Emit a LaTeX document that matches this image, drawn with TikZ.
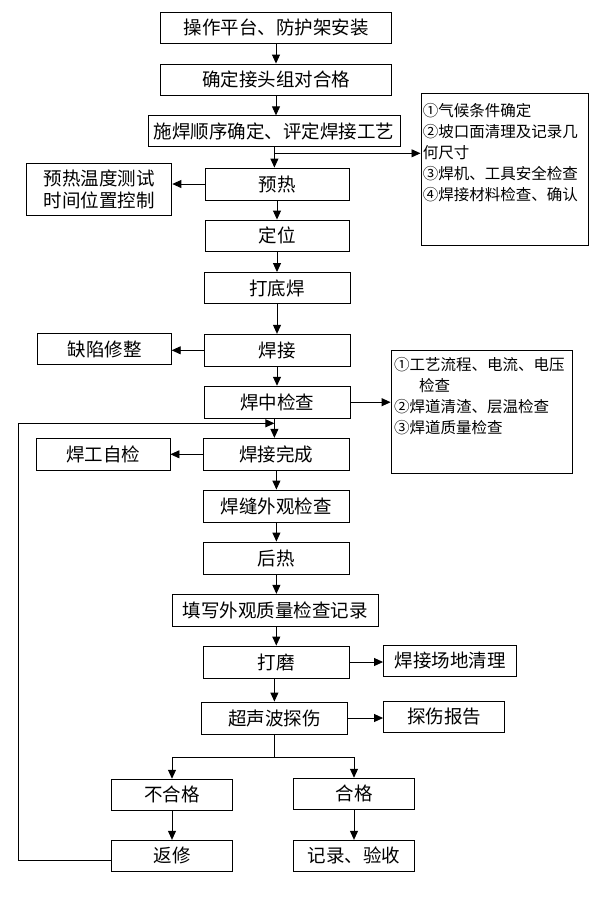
\documentclass[tikz,border=0pt]{standalone}
\usepackage{fontspec}
\newfontfamily\cjk{Noto Sans CJK SC}
\usetikzlibrary{arrows.meta}
\newcommand\qh[1]{\makebox[1em]{#1}}
\begin{document}
\begin{tikzpicture}
[x=1pt,y=-1pt,line width=0.9pt,
ar/.style={-{Triangle[length=9pt,width=8pt]}},
no/.style={draw,inner sep=0pt,minimum height=32pt,font=\cjk\fontsize{18.5}{22}\selectfont},
lst/.style={draw,inner sep=4pt,anchor=north west,font=\cjk\fontsize{15.5}{21}\selectfont}]
\useasboundingbox (0,0) rectangle (611,906);
\node [no,minimum width=231pt,minimum height=31pt] at (276,27.5) (azpt) {操作平台、防护架安装};
\node [no,minimum width=231pt,minimum height=31pt] at (276,79.5) (jtzd) {确定接头组对合格};
\node [no,minimum width=252pt,minimum height=31pt] at (274,131.3) (shsx) {施焊顺序确定、评定焊接工艺};
\node [lst,inner xsep=2pt] at (420.5,93.3) (jc1) {\parbox[t][144pt][t]{163pt}{\vspace*{6pt}\qh{①}气候条件确定\\\qh{②}坡口面清理及记录几\\何尺寸\\\qh{③}焊机、工具安全检查\\\qh{④}焊接材料检查、确认}};
\node [no,minimum width=144pt] at (277,184) (yr) {预热};
\node [no,minimum width=145pt,minimum height=52pt,align=center] at (99.4,189) (yrkz) {预热温度测试\\时间位置控制};
\node [no,minimum width=144pt,minimum height=31pt] at (277,235.5) (dw) {定位};
\node [no,minimum width=146pt,minimum height=31pt] at (277,288) (ddh) {打底焊};
\node [no,minimum width=146pt] at (277,350.3) (hj) {焊接};
\node [no,minimum width=133.5pt,minimum height=31pt] at (104.5,349) (qxxz) {缺陷修整};
\node [no,minimum width=146pt] at (277,402.2) (hzjc) {焊中检查};
\node [lst,inner xsep=3pt] at (390.6,350) (jc2) {\parbox[t][115pt][t]{175pt}{\vspace*{3pt}\qh{①}工艺流程、电流、电压\\\hspace*{25pt}检查\\\qh{②}焊道清渣、层温检查\\\qh{③}焊道质量检查}};
\node [no,minimum width=145.7pt] at (276.4,454.3) (hjwc) {焊接完成};
\node [no,minimum width=133.4pt] at (103.3,454.3) (hgzj) {焊工自检};
\node [no,minimum width=145.7pt] at (276.4,506) (wgjc) {焊缝外观检查};
\node [no,minimum width=145.7pt] at (276.4,558) (hr) {后热};
\node [no,minimum width=206.3pt] at (275.2,610.3) (txjl) {填写外观质量检查记录};
\node [no,minimum width=145.5pt] at (276.3,662) (dm) {打磨};
\node [no,minimum width=133pt,minimum height=31pt] at (450,660.7) (cdql) {焊接场地清理};
\node [no,minimum width=145.3pt] at (274.3,718) (tsh) {超声波探伤};
\node [no,minimum width=121pt,minimum height=31pt] at (444,716.8) (tsbg) {探伤报告};
\node [no,minimum width=121.3pt,minimum height=31pt] at (172,794.7) (bhg) {不合格};
\node [no,minimum width=121.3pt,minimum height=31pt] at (354,793.7) (hg) {合格};
\node [no,minimum width=121.3pt,minimum height=31pt] at (172,855.8) (fx) {返修};
\node [no,minimum width=121.3pt,minimum height=31pt] at (354,855.8) (jlys) {记录、验收};
\coordinate (fz1) at (274.4,153.3);
\coordinate (fz2) at (274.4,757.3);
\coordinate (hl1) at (18.5,860.7);
\coordinate (hl2) at (18.5,423.3);
\coordinate (hl3) at (274.4,423.3);

\draw [ar] (azpt) -- (jtzd);
\draw [ar] (jtzd) -- (jtzd.south |- shsx.north);
\draw [ar] (shsx.south -| fz1) -- (fz1 |- yr.north);
\draw [ar] (fz1) -- (fz1 -| jc1.west);
\draw [ar] (yr.west) -- (yr.west -| yrkz.east);
\draw [ar] (yr) -- (dw);
\draw [ar] (dw) -- (ddh);
\draw [ar] (ddh) -- (hj);
\draw [ar] (hj.west) -- (hj.west -| qxxz.east);
\draw [ar] (hj) -- (hzjc);
\draw [ar] (hzjc.east) -- (hzjc.east -| jc2.west);
\draw [ar] (hzjc.south -| hl3) -- (hl3 |- hjwc.north);
\draw [ar] (hjwc.west) -- (hjwc.west -| hgzj.east);
\draw [ar] (hjwc) -- (wgjc);
\draw [ar] (wgjc) -- (hr);
\draw [ar] (hr) -- (hr.south |- txjl.north);
\draw [ar] (txjl.south -| dm) -- (dm);
\draw [ar] (dm.east) -- (dm.east -| cdql.west);
\draw [ar] (dm.south -| fz2) -- (fz2 |- tsh.north);
\draw [ar] (tsh.east) -- (tsh.east -| tsbg.west);
\draw (tsh.south -| fz2) -- (fz2);
\draw [ar] (fz2) -| (bhg.north);
\draw [ar] (fz2) -| (hg.north);
\draw [ar] (bhg) -- (fx);
\draw [ar] (hg) -- (jlys);
\draw [ar] (fx.west |- hl1) -- (hl1) -- (hl2) -- (hl3);
\end{tikzpicture}
\end{document}
